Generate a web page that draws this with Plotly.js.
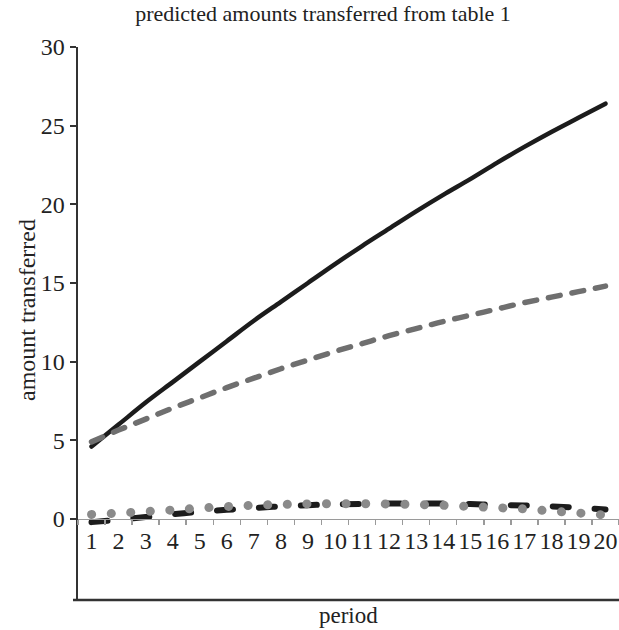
<!DOCTYPE html>
<html>
<head>
<meta charset="utf-8">
<script src="https://cdn.plot.ly/plotly-3.0.1.min.js"></script>
<style>html,body{margin:0;padding:0;background:#fff;}#chart{width:619px;height:630px;}</style>
</head>
<body>
<div id="chart"></div>
<script>
// Periods (category labels)
const periods = ['1','2','3','4','5','6','7','8','9','10','11','12','13','14','15','16','17','18','19','20'];
// Series values
const solidBlack = [4.6, 6.0, 7.4, 8.7, 10.0, 11.3, 12.6, 13.8, 15.0, 16.2, 17.35, 18.45, 19.55, 20.6, 21.6, 22.65, 23.65, 24.6, 25.5, 26.4];
const dashedGray = [4.9, 5.65, 6.35, 7.05, 7.7, 8.35, 8.95, 9.55, 10.1, 10.65, 11.15, 11.65, 12.1, 12.55, 12.95, 13.35, 13.75, 14.1, 14.45, 14.8];
const dashedBlackLow = [-0.2, -0.05, 0.12, 0.3, 0.45, 0.58, 0.7, 0.8, 0.88, 0.93, 0.96, 0.98, 0.98, 0.98, 0.95, 0.9, 0.86, 0.8, 0.72, 0.6];
const dottedGrayLow = [0.29, 0.37, 0.47, 0.57, 0.69, 0.79, 0.87, 0.92, 0.96, 0.97, 0.97, 0.95, 0.92, 0.87, 0.79, 0.72, 0.64, 0.5, 0.38, 0.25];
const yTicks = [0, 5, 10, 15, 20, 25, 30];

const yLo = -5.15, yHi = 30;
const serif = 'Liberation Serif, Times New Roman, serif';

const traces = [
  {x: periods, y: solidBlack, type: 'scatter', mode: 'lines',
   line: {color: '#1c1c1c', width: 4.5, shape: 'spline', smoothing: 1}},
  {x: periods, y: dashedGray, type: 'scatter', mode: 'lines',
   line: {color: '#6f6f6f', width: 5.5, dash: '12px,12px', shape: 'spline', smoothing: 1}},
  {x: periods, y: dashedBlackLow, type: 'scatter', mode: 'lines',
   line: {color: '#1c1c1c', width: 6, dash: '16px,26px', shape: 'spline', smoothing: 1}},
  {x: periods, y: dottedGrayLow, type: 'scatter', mode: 'lines',
   line: {color: '#8a8a8a', width: 9, dash: '0.1px,19.5px', shape: 'spline', smoothing: 1}}
];

const layout = {
  width: 619, height: 630,
  margin: {l: 78, r: 0, t: 47, b: 30, pad: 0},
  paper_bgcolor: '#fff', plot_bgcolor: '#fff',
  showlegend: false,
  font: {family: serif, color: '#222', size: 24},
  title: {text: 'predicted amounts transferred from table 1',
          font: {family: serif, size: 22, color: '#222'},
          xref: 'container', yref: 'container', x: 323/619, y: 1 - 13/630,
          xanchor: 'center', yanchor: 'middle'},
  xaxis: {type: 'category', anchor: 'free', position: -yLo/(yHi - yLo),
          showline: true, linecolor: '#9a9a9a', linewidth: 1.5,
          tickmode: 'linear', tick0: 0, dtick: 1,
          ticks: 'outside', tickson: 'boundaries', ticklen: 5, tickwidth: 1.5, tickcolor: '#9a9a9a',
          tickangle: 0, showgrid: false, zeroline: false,
          tickfont: {family: serif, size: 24, color: '#222'},
          range: [-0.5, 19.5]},
  yaxis: {range: [yLo, yHi], tickvals: yTicks, ticktext: yTicks.map(String),
          showline: true, linecolor: '#333', linewidth: 2.5,
          ticks: 'outside', ticklen: 6, tickwidth: 2, tickcolor: '#333',
          showgrid: false, zeroline: false,
          tickfont: {family: serif, size: 24, color: '#222'}},
  shapes: [
    {type: 'line', xref: 'paper', yref: 'paper', x0: -5/541, x1: 1, y0: 0, y1: 0,
     line: {color: '#333', width: 2.5}}
  ],
  annotations: [
    {text: 'amount transferred', textangle: -90, xref: 'paper', yref: 'paper',
     x: (27 - 78)/541, y: (600 - 310)/553, xanchor: 'center', yanchor: 'middle',
     showarrow: false, font: {family: serif, size: 24, color: '#222'}},
    {text: 'period', xref: 'paper', yref: 'paper',
     x: (348 - 78)/541, y: (600 - 615)/553, xanchor: 'center', yanchor: 'middle',
     showarrow: false, font: {family: serif, size: 23, color: '#222'}}
  ]
};

Plotly.newPlot('chart', traces, layout, {staticPlot: true, displayModeBar: false}).then(function(gd){
  gd.querySelectorAll('.scatterlayer .js-line').forEach(function(p){
    p.style.strokeLinecap = 'round';
  });
});
</script>
</body>
</html>
